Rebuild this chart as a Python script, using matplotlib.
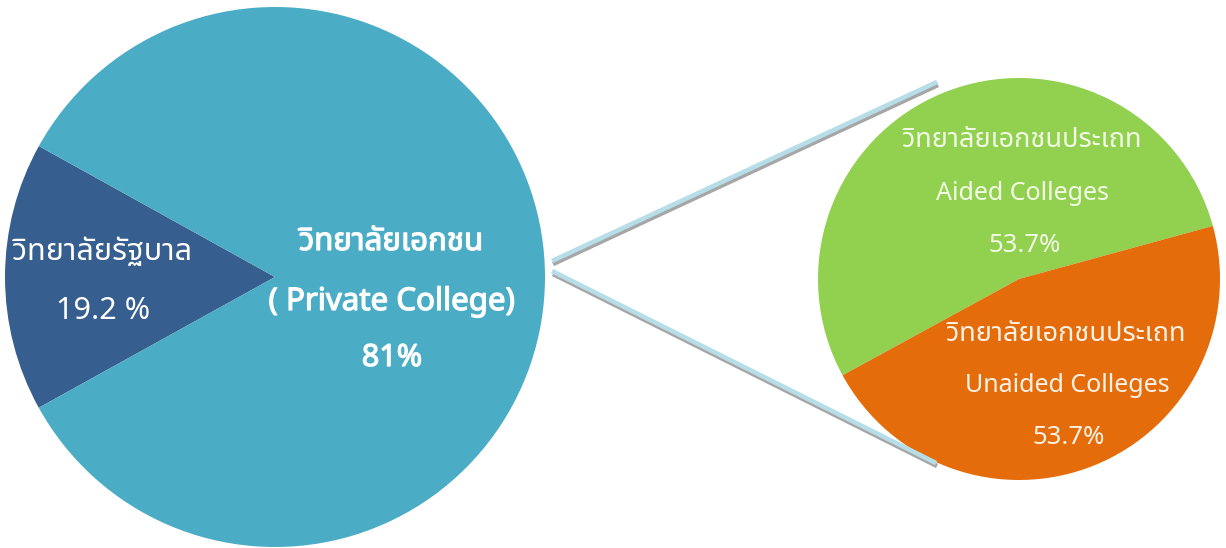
import matplotlib
matplotlib.use("Agg")
import matplotlib.pyplot as plt
import matplotlib.patheffects as pe
from matplotlib import font_manager
from matplotlib.ft2font import FT2Font

# ---------------- data ----------------
main_labels = ["วิทยาลัยรัฐบาล", "วิทยาลัยเอกชน"]
main_values = [16.1, 83.9]          # drawn wedge sizes
main_texts = ["19.2 %", "81%"]
main_sub = "( Private College)"
sub_labels_th = ["วิทยาลัยเอกชนประเถท", "วิทยาลัยเอกชนประเถท"]
sub_labels_en = ["Aided Colleges", "Unaided Colleges"]
sub_values = [53.7, 46.3]
sub_texts = ["53.7%", "53.7%"]

W, H = 1226, 548

# ---------------- find a font with Thai glyphs ----------------
def find_thai_font():
    cands = []
    for f in font_manager.fontManager.ttflist:
        try:
            cm = FT2Font(f.fname).get_charmap()
        except Exception:
            continue
        if 0x0E27 in cm and 0x0E34 in cm:
            cands.append(f.name)
    pref = ["Noto Sans Thai", "Noto Sans Thai UI", "Tahoma", "Leelawadee UI", "Loma", "Garuda", "Sarabun"]
    for p in pref:
        if p in cands:
            return p
    return cands[0] if cands else None

thai = find_thai_font()
fam = ([thai] if thai else []) + ["DejaVu Sans"]
plt.rcParams["font.family"] = fam

fig = plt.figure(figsize=(W / 100, H / 100), dpi=100)
ax = fig.add_axes([0, 0, 1, 1])

def Y(py):
    return H - py

# big pie
ax.pie(main_values, colors=["#365E8E", "#4BACC6"], startangle=151,
       center=(275, Y(277)), radius=270, frame=True,
       wedgeprops=dict(linewidth=0))
# small pie
ax.pie(sub_values, colors=["#92D050", "#E46C0A"], startangle=15.3,
       center=(1019, Y(279)), radius=201, frame=True,
       wedgeprops=dict(linewidth=0))

# connector lines (light blue with grey shadow below)
for (x0, y0, x1, y1) in [(552, 261, 937, 82), (552, 271, 936, 463)]:
    ax.plot([x0 + 1, x1 + 1], [Y(y0 + 3), Y(y1 + 3)], color="#A6A6A6", lw=3.3,
            solid_capstyle="butt", zorder=3)
    ax.plot([x0, x1], [Y(y0), Y(y1)], color="#B7DEE8", lw=3.3,
            solid_capstyle="butt", zorder=4)

ax.set_xlim(0, W)
ax.set_ylim(0, H)
ax.set_aspect("equal")
ax.axis("off")

white = "#FFFFFF"
bold = [pe.withStroke(linewidth=0.9, foreground=white)]
# big pie labels
ax.text(103, Y(252), main_labels[0], color=white, fontsize=22, ha="center", va="center")
ax.text(103, Y(311), main_texts[0], color=white, fontsize=22, ha="center", va="center")
ax.text(391, Y(242), main_labels[1], color=white, fontsize=22.5, ha="center", va="center", path_effects=bold)
ax.text(392, Y(302), main_sub, color=white, fontsize=22.5, ha="center", va="center", path_effects=bold)
ax.text(392, Y(358), main_texts[1], color=white, fontsize=22, ha="center", va="center", path_effects=bold)

# small pie labels
gcol = "#F2FAE6"
ocol = "#FFF2E6"
ax.text(1022, Y(140), sub_labels_th[0], color=gcol, fontsize=19.5, ha="center", va="center")
ax.text(1022, Y(193), sub_labels_en[0], color=gcol, fontsize=18, ha="center", va="center")
ax.text(1025, Y(245), sub_texts[0], color=gcol, fontsize=18.5, ha="center", va="center")
ax.text(1066, Y(334), sub_labels_th[1], color=ocol, fontsize=19.5, ha="center", va="center")
ax.text(1067, Y(386), sub_labels_en[1], color=ocol, fontsize=18, ha="center", va="center")
ax.text(1069, Y(438), sub_texts[1], color=ocol, fontsize=18.5, ha="center", va="center")

fig.savefig("out.png", dpi=100, facecolor="white")
